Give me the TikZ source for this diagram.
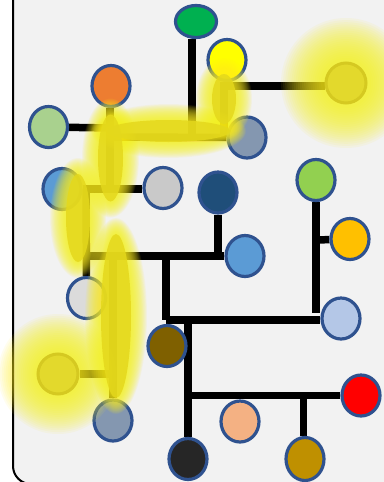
\documentclass[tikz,border=0pt]{standalone}
\usetikzlibrary{shapes.geometric}
\definecolor{bgc}{HTML}{F2F2F2}
\definecolor{nbc}{HTML}{2F528F}
\definecolor{glowc}{HTML}{FFF01E}
\definecolor{corec}{HTML}{E4D81C}
\definecolor{gnodef}{HTML}{E3D92C}
\definecolor{gnoded}{HTML}{D5C921}
\definecolor{cgreen}{HTML}{00B050}
\definecolor{cyellow}{HTML}{FFFF00}
\definecolor{corange}{HTML}{ED7D31}
\definecolor{clgreen}{HTML}{A9D18E}
\definecolor{cgb}{HTML}{8497B0}
\definecolor{cblue}{HTML}{5B9BD5}
\definecolor{cgray}{HTML}{C9C9C9}
\definecolor{cgray2}{HTML}{DBDBDB}
\definecolor{cdblue}{HTML}{1F4E79}
\definecolor{cgreen2}{HTML}{92D050}
\definecolor{cgoldy}{HTML}{FFC000}
\definecolor{cbrown}{HTML}{7F6000}
\definecolor{clblue}{HTML}{B4C7E7}
\definecolor{cred}{HTML}{FF0000}
\definecolor{cpeach}{HTML}{F4B183}
\definecolor{cdark}{HTML}{262626}
\definecolor{cgold}{HTML}{BF9000}
\pgfdeclarelayer{back}
\pgfdeclarelayer{edges}
\pgfdeclarelayer{glow}
\pgfdeclarelayer{top}
\pgfsetlayers{back,edges,main,glow,top}
\newcommand\glowshape[5]{%
  \foreach \k in {1,...,20}{%
    \fill[glowc,opacity=0.075] (#1,#2) ellipse [x radius={(#3+\k*#5/20)*1pt}, y radius={(#4+\k*#5/20)*1pt}];}}
\newcommand\coreshape[4]{%
  \fill[corec,opacity=0.85] (#1,#2) ellipse [x radius={#3*1pt}, y radius={#4*1pt}];}
\begin{document}
\begin{tikzpicture}[x=1pt,y=-1pt,
  nd/.style={ellipse, draw=nbc, line width=3.2pt, minimum width=38pt, minimum height=41pt, inner sep=0pt},
  gnd/.style={ellipse, draw=gnoded, fill=gnodef, line width=3pt, minimum width=40pt, minimum height=40pt, inner sep=0pt},
  br/.style={line width=7.5pt, black}]
\useasboundingbox (0,0) rectangle (383,482);
\begin{pgfonlayer}{back}
\fill[white] (0,0) rectangle (383,482);
\draw[black, line width=2pt, fill=bgc, rounded corners=18pt] (13,-30) rectangle (430,484);
\end{pgfonlayer}
% nodes
\node[nd, fill=cgreen, minimum width=41pt, minimum height=32pt] (ngreen) at (196,21.5) {};
\node[nd, fill=cyellow] (nyellow) at (227,60) {};
\node[nd, fill=corange] (norange) at (111,86) {};
\node[nd, fill=clgreen] (nlgreen) at (48.5,127) {};
\node[nd, fill=cgb] (ngb1) at (247,137.5) {};
\node[nd, fill=cblue] (nblue1) at (62,189) {};
\node[nd, fill=cgray] (ngray1) at (163,188) {};
\node[nd, fill=cdblue] (ndblue) at (218,192.5) {};
\node[nd, fill=cgreen2] (nlg2) at (316,180) {};
\node[nd, fill=cgoldy] (norg2) at (350,239) {};
\node[nd, fill=cblue] (nblue2) at (245,256) {};
\node[nd, fill=cgray2] (ngray2) at (86.5,298) {};
\node[nd, fill=cbrown] (nbrown) at (167,346) {};
\node[nd, fill=clblue] (nlblue) at (341,318.5) {};
\node[nd, fill=cgb] (ngb2) at (113,420.5) {};
\node[nd, fill=cred] (nred) at (361,395.5) {};
\node[nd, fill=cpeach] (npeach) at (240,421.5) {};
\node[nd, fill=cdark] (ndark) at (188,459) {};
\node[nd, fill=cgold, minimum height=43pt] (ngold) at (305,459) {};
\begin{pgfonlayer}{top}
\node[gnd] (nglow1) at (346,83) {};
\node[gnd] (nglow2) at (58,374) {};
\end{pgfonlayer}
% junctions
\coordinate (jA) at (192,137);
\coordinate (jL) at (110,137);
\coordinate (jY) at (224,137);
\coordinate (jY2) at (224,86);
\coordinate (jL2) at (110,128);
\coordinate (jO) at (110,189);
\coordinate (jK) at (86,189);
\coordinate (jK2) at (86,256);
\coordinate (jM) at (166,256);
\coordinate (jM2) at (166,320);
\coordinate (jN) at (188,320);
\coordinate (jN2) at (188,395.5);
\coordinate (jP) at (240,395.5);
\coordinate (jQ) at (303.5,395.5);
\coordinate (jR) at (316,313);
\coordinate (jR2) at (316,240);
\coordinate (jS) at (113,256);
\coordinate (jS2) at (113,374);
% edges
\begin{pgfonlayer}{edges}
\draw[br] (ngreen.south -| jA) -- (jA);
\draw[br] (jL) -- (ngb1);
\draw[br] (nyellow.south -| jY) -- (jY);
\draw[br] (jY2) -- (jY2 -| nglow1.west);
\draw[br] (nlgreen) -- (jL2);
\draw[br] (norange.south -| jO) -- (jO);
\draw[br] (nblue1) -- (ngray1.west |- nblue1);
\draw[br] (jK) -- (ngray2);
\draw[br] (jK2) -- (nblue2);
\draw[br] (ndblue) -- (ndblue |- jK2);
\draw[br] (jM) -- (jM2);
\draw[br] (jM2) -- (jM2 -| nlblue.west);
\draw[br] (jN) -- (ndark);
\draw[br] (jN2) -- (nred);
\draw[br] (jP) -- (npeach);
\draw[br] (jQ) -- (jQ |- ngold.north);
\draw[br] (nlg2) -- (jR);
\draw[br] (jR2) -- (norg2);
\draw[br] (jS) -- (ngb2);
\draw[br] (nglow2) -- (jS2);
\end{pgfonlayer}
% glows
\begin{pgfonlayer}{glow}
\glowshape{168.5}{131}{61.5}{11}{16}
\glowshape{110.5}{158}{12.5}{43.5}{16}
\glowshape{224}{99}{12}{25}{16}
\glowshape{78}{218}{12}{44}{16}
\glowshape{116}{316}{15}{82}{16}
\glowshape{346}{83}{23}{23}{42}
\glowshape{58}{374}{22}{22}{38}
\end{pgfonlayer}
\begin{pgfonlayer}{top}
\coreshape{168.5}{131}{61.5}{11}
\coreshape{110.5}{158}{12.5}{43.5}
\coreshape{224}{99}{12}{25}
\coreshape{78}{218}{12}{44}
\coreshape{116}{316}{15}{82}
\end{pgfonlayer}
\end{tikzpicture}
\end{document}
